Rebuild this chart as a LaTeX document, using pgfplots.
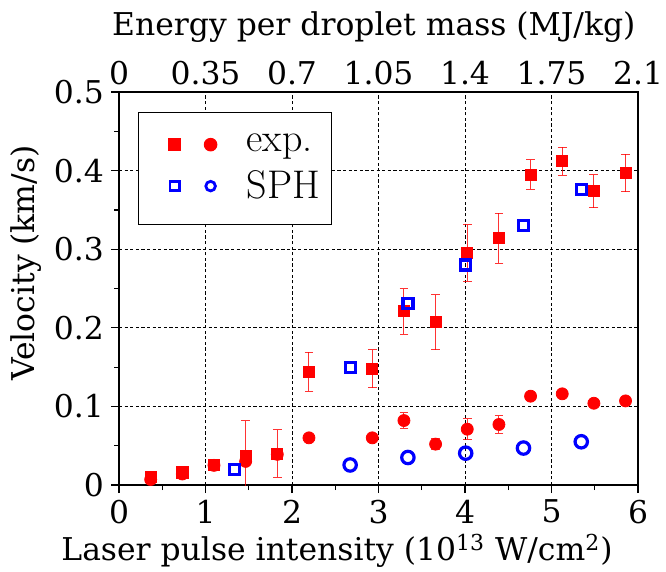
\documentclass[border=0pt]{standalone}
\usepackage{fontspec}
\usepackage{pgfplots}
\usepackage{pgfplotstable}
\pgfplotsset{compat=1.18}
\newfontfamily\dvs{DejaVu Serif}
\newcommand{\fs}{\fontsize{15.7}{18}\dvs}

\pgfplotstableread{
x y e
0.366 0.010 0.004
0.732 0.016 0.008
1.098 0.026 0.004
1.464 0.037 0.045
1.830 0.040 0.030
2.196 0.144 0.025
2.928 0.148 0.024
3.294 0.221 0.029
3.660 0.207 0.035
4.026 0.295 0.036
4.392 0.314 0.032
4.758 0.395 0.019
5.124 0.412 0.018
5.490 0.374 0.021
5.856 0.397 0.024
}\expsq

\pgfplotstableread{
x y e
0.366 0.007 0.002
0.732 0.014 0.004
1.098 0.025 0.003
1.464 0.030 0.003
1.830 0.039 0.003
2.196 0.060 0.003
2.928 0.060 0.003
3.294 0.082 0.010
3.660 0.052 0.007
4.026 0.071 0.013
4.392 0.077 0.011
4.758 0.113 0.003
5.124 0.116 0.003
5.490 0.104 0.003
5.856 0.107 0.003
}\expci

\pgfplotstableread{
x y
1.336 0.020
2.672 0.150
3.340 0.231
4.008 0.280
4.676 0.330
5.344 0.376
}\sphsq

\pgfplotstableread{
x y
2.672 0.0255
3.340 0.035
4.008 0.0405
4.676 0.047
5.344 0.055
}\sphci

\begin{document}
\begin{tikzpicture}
\begin{axis}[
  scale only axis,
  width=259.5pt, height=196.5pt,
  xmin=0, xmax=6, ymin=0, ymax=0.5,
  xtick={0,1,2,3,4,5,6},
  ytick={0,0.1,0.2,0.3,0.4,0.5},
  minor x tick num=1, minor y tick num=1,
  xtick pos=bottom, ytick pos=left,
  tick align=outside,
  major tick length=4pt, minor tick length=2.5pt,
  every tick/.style={black, line width=0.6pt},
  axis line style={black, line width=0.8pt},
  grid=major,
  major grid style={black, line width=0.5pt, dash pattern=on 1.6pt off 1.2pt},
  /pgf/number format/assume math mode=true,
  tick label style={font=\fs},
  yticklabel style={/pgf/number format/.cd, fixed, precision=1},
  xlabel={\fs Laser pulse intensity (10\textsuperscript{13} W/cm\textsuperscript{2})},
  xlabel style={at={(axis description cs:0.42,-0.168)}, anchor=center},
  ylabel={\fs Velocity (km/s)},
  ylabel style={at={(axis description cs:-0.179,0.565)}, anchor=center, rotate=0},
  legend style={at={(axis description cs:0.0366,0.949)}, anchor=north west,
    draw=black, line width=0.6pt, font=\fontsize{20}{22}\selectfont,
    inner xsep=4pt, inner ysep=8pt, row sep=0pt},
  legend cell align=left,
  error bars/error bar style={red, line width=0.5pt, opacity=0.8},
  error bars/error mark options={rotate=90, mark size=2.2pt, red, line width=0.5pt, opacity=0.8},
]
\addplot[only marks, mark=square*, mark size=2.8pt, color=red, forget plot,
  error bars/.cd, y dir=both, y explicit] table[x=x, y=y, y error=e]{\expsq};
\addplot[only marks, mark=*, mark size=3pt, color=red, forget plot,
  error bars/.cd, y dir=both, y explicit] table[x=x, y=y, y error=e]{\expci};
\addplot[only marks, mark=square, mark size=2.5pt, color=blue, line width=1.6pt, forget plot] table[x=x, y=y]{\sphsq};
\addplot[only marks, mark=o, mark size=3.1pt, color=blue, line width=1.6pt, forget plot] table[x=x, y=y]{\sphci};

\addlegendimage{legend image code/.code={
  \path[draw=none, fill=none] (-14pt,-11pt) rectangle (34pt,8pt);
  \fill[red] (-3.1pt,-3.1pt) rectangle (3.1pt,3.1pt);
  \fill[red] (18pt,0pt) circle (3.1pt);
}}
\addlegendentry{exp.}
\addlegendimage{legend image code/.code={
  \path[draw=none, fill=none] (-14pt,-11pt) rectangle (34pt,8pt);
  \draw[blue, line width=1.4pt] (-2.3pt,-2.3pt) rectangle (2.3pt,2.3pt);
  \draw[blue, line width=1.4pt] (18pt,0pt) circle (2.4pt);
}}
\addlegendentry{SPH}

\coordinate (bl) at (rel axis cs:0,0);
\coordinate (tr) at (rel axis cs:1,1);
\end{axis}
\begin{axis}[
  scale only axis,
  width=259.5pt, height=196.5pt,
  xmin=0, xmax=2.1, ymin=0, ymax=1,
  axis x line*=top, axis y line=none,
  xtick={0,0.35,0.7,1.05,1.4,1.75,2.1},
  xticklabels={0,0.35,0.7,1.05,1.4,1.75,2.1},
  major tick length=0pt,
  axis line style={black, line width=0.8pt},
  /pgf/number format/assume math mode=true,
  tick label style={font=\fs},
  xlabel={\fs Energy per droplet mass (MJ/kg)},
  xlabel style={at={(axis description cs:0.491,1.165)}, anchor=center},
]
\end{axis}
\pgfresetboundingbox
\path ([shift={(-59.5pt,-43pt)}]bl) rectangle ([shift={(14pt,46pt)}]tr);
\end{tikzpicture}
\end{document}
